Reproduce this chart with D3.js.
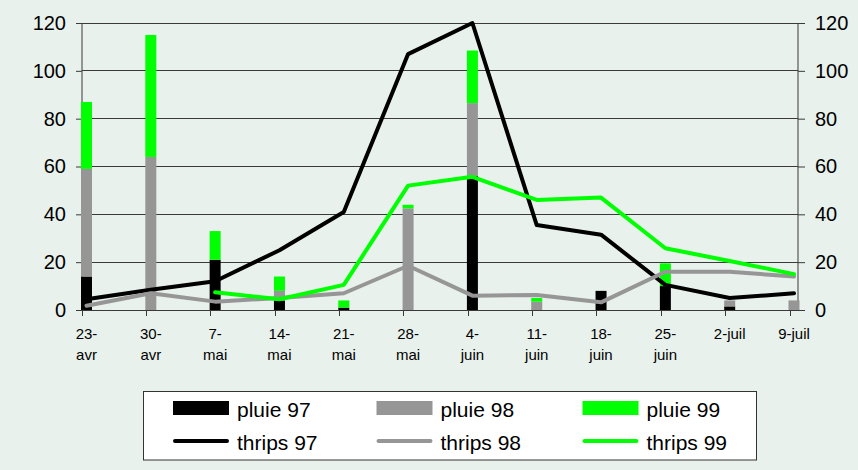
<!DOCTYPE html>
<html>
<head>
<meta charset="utf-8">
<script src="https://cdn.jsdelivr.net/npm/d3@7"></script>
<style>
  html, body { margin: 0; padding: 0; background: #E8F1EC; }
  svg { display: block; font-family: "Liberation Sans", Arial, sans-serif; }
</style>
</head>
<body>
<svg id="chart" width="858" height="470"></svg>
<script>
// ---- data ----
const categories = ["23-avr","30-avr","7-mai","14-mai","21-mai","28-mai","4-juin","11-juin","18-juin","25-juin","2-juil","9-juil"];
const categoryLabels = [["23-","avr"],["30-","avr"],["7-","mai"],["14-","mai"],["21-","mai"],["28-","mai"],["4-","juin"],["11-","juin"],["18-","juin"],["25-","juin"],["2-juil"],["9-juil"]];
const pluie97 = [14, 0, 21, 4, 1, 0, 56, 0, 8, 10, 1.5, 0];
const pluie98 = [45, 64, 0, 4, 0, 42.5, 30.5, 3.5, 0, 0, 2.5, 4];
const pluie99 = [28, 51, 12, 6, 3, 1.5, 22, 1.5, 0, 9.5, 0, 0];
const thrips97 = [4.5, 8.5, 12, 25, 41, 107, 120, 35.5, 31.5, 10.5, 5, 7];
const thrips98 = [1.8, 7, 3.5, 5, 7, 18.5, 6, 6.3, 3.2, 16, 16, 14];
const thrips99 = [null, null, 7.4, 4.5, 10.5, 52, 55.7, 46, 47, 25.8, 20.5, 15];
const yTicks = [0, 20, 40, 60, 80, 100, 120];

(function () {
const colors = { c97: "#000000", c98: "#969696", c99: "#00FF00" };

const svg = d3.select("#chart");
const pLeft = 82, pRight = 798, pTop = 23, pBottom = 310;

const y = d3.scaleLinear().domain([0, 120]).range([pBottom, pTop]);
const x = d3.scalePoint().domain(categories).range([86.5, 794]);
const xTick = d3.scalePoint().domain(categories).range([pLeft, 790]);

// gridlines
svg.append("g").selectAll("line").data(yTicks.filter(d => d > 0)).join("line")
  .attr("x1", pLeft).attr("x2", pRight)
  .attr("y1", d => y(d)).attr("y2", d => y(d))
  .attr("stroke", "#3a3a3a").attr("stroke-width", 1).attr("shape-rendering", "crispEdges");

// y axes
const yAxisL = d3.axisLeft(y).tickValues(yTicks).tickSize(6).tickPadding(10);
const gL = svg.append("g").attr("transform", `translate(${pLeft},0)`).call(yAxisL);
const yAxisR = d3.axisRight(y).tickValues(yTicks).tickSize(7).tickPadding(10);
const gR = svg.append("g").attr("transform", `translate(${pRight},0)`).call(yAxisR);
[gL, gR].forEach(g => {
  g.select(".domain").attr("stroke", "#3a3a3a").attr("d", `M0,${pTop}V${pBottom}`);
  g.selectAll(".tick line").attr("stroke", "#3a3a3a");
  g.selectAll(".tick text").attr("font-size", 20).attr("fill", "#000")
    .attr("font-family", "'Liberation Sans', Arial, sans-serif");
});

// bars (stacked)
const barW = 11;
const stackData = categories.map((c, i) => ({ c, p97: pluie97[i], p98: pluie98[i], p99: pluie99[i] }));
const stack = d3.stack().keys(["p97", "p98", "p99"])(stackData);
const barColors = { p97: colors.c97, p98: colors.c98, p99: colors.c99 };
svg.append("g").selectAll("g").data(stack).join("g")
  .attr("fill", d => barColors[d.key])
  .selectAll("rect").data(d => d.filter(s => s[1] - s[0] > 0)).join("rect")
  .attr("x", d => x(d.data.c) - barW / 2)
  .attr("width", barW)
  .attr("y", d => y(d[1]))
  .attr("height", d => y(d[0]) - y(d[1]));

// x axis
svg.append("line").attr("x1", pLeft).attr("x2", pRight).attr("y1", pBottom).attr("y2", pBottom)
  .attr("stroke", "#3a3a3a").attr("shape-rendering", "crispEdges");
svg.append("g").selectAll("line").data(categories).join("line")
  .attr("x1", d => xTick(d)).attr("x2", d => xTick(d))
  .attr("y1", pBottom).attr("y2", pBottom + 6)
  .attr("stroke", "#3a3a3a").attr("shape-rendering", "crispEdges");
const xl = svg.append("g").selectAll("text").data(categories).join("text")
  .attr("x", d => x(d)).attr("y", 339)
  .attr("text-anchor", "middle").attr("font-size", 15).attr("fill", "#000");
xl.each(function(d, i) {
  const t = d3.select(this);
  categoryLabels[i].forEach((s, k) => {
    t.append("tspan").attr("x", x(d)).attr("dy", k === 0 ? 0 : 21).text(s);
  });
});

// lines
const series = [
  { vals: thrips97, color: colors.c97 },
  { vals: thrips98, color: colors.c98 },
  { vals: thrips99, color: colors.c99 }
];
const line = d3.line()
  .defined(d => d.v !== null)
  .x(d => x(d.c)).y(d => y(d.v));
svg.append("g").selectAll("path").data(series).join("path")
  .attr("d", s => line(categories.map((c, i) => ({ c, v: s.vals[i] }))))
  .attr("fill", "none").attr("stroke", s => s.color)
  .attr("stroke-width", 4).attr("stroke-linejoin", "round").attr("stroke-linecap", "round");

// legend
const lg = svg.append("g");
lg.append("rect").attr("x", 143.5).attr("y", 391.5).attr("width", 613).attr("height", 68.5)
  .attr("fill", "#fff").attr("stroke", "#333").attr("stroke-width", 1);
const legendCols = [173, 376.5, 582.5];
const legendItems = [
  { label: "pluie 97", type: "rect", color: colors.c97, col: 0, row: 0 },
  { label: "pluie 98", type: "rect", color: colors.c98, col: 1, row: 0 },
  { label: "pluie 99", type: "rect", color: colors.c99, col: 2, row: 0 },
  { label: "thrips 97", type: "line", color: colors.c97, col: 0, row: 1 },
  { label: "thrips 98", type: "line", color: colors.c98, col: 1, row: 1 },
  { label: "thrips 99", type: "line", color: colors.c99, col: 2, row: 1 }
];
legendItems.forEach(it => {
  const x0 = legendCols[it.col];
  const cy = it.row === 0 ? 408 : 441;
  if (it.type === "rect") {
    lg.append("rect").attr("x", x0).attr("y", cy - 7).attr("width", 56).attr("height", 14).attr("fill", it.color);
  } else {
    lg.append("line").attr("x1", x0 + 2).attr("x2", x0 + 54).attr("y1", cy).attr("y2", cy)
      .attr("stroke", it.color).attr("stroke-width", 4).attr("stroke-linecap", "round");
  }
  lg.append("text").attr("x", x0 + 64).attr("y", cy + 8.5).attr("font-size", 21).attr("fill", "#000").text(it.label);
});
})();
</script>
</body>
</html>
